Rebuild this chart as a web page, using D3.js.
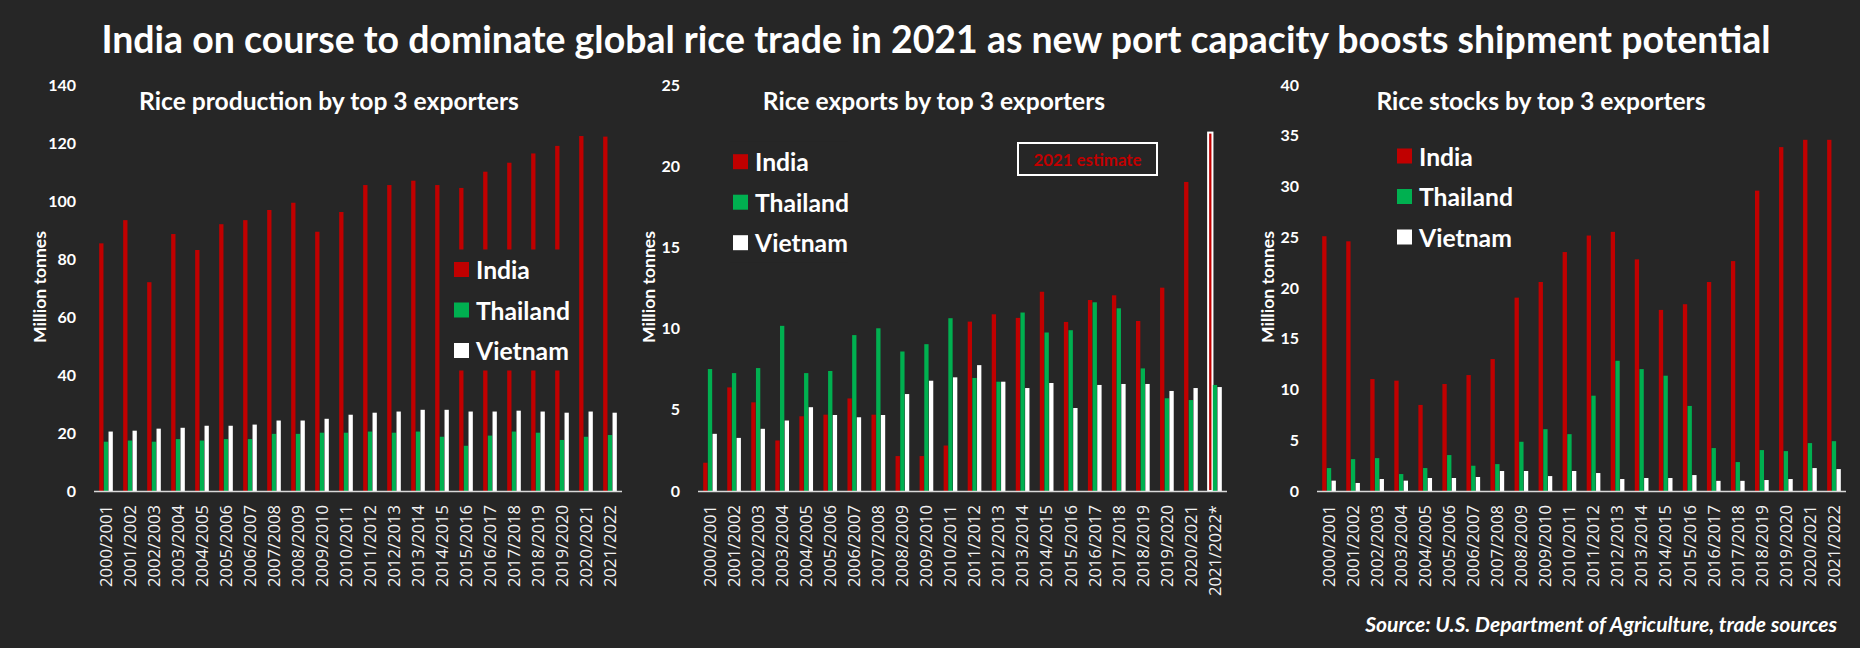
<!DOCTYPE html>
<html>
<head>
<meta charset="utf-8">
<script src="https://cdn.jsdelivr.net/npm/d3@7"></script>
<style>
  html, body { margin: 0; padding: 0; background: #262626; }
  svg { display: block; }
</style>
</head>
<body>
<div id="chart"></div>
<script>
// seasons on the x axis
let seasons = ["2000/2001","2001/2002","2002/2003","2003/2004","2004/2005","2005/2006",
  "2006/2007","2007/2008","2008/2009","2009/2010","2010/2011","2011/2012","2012/2013",
  "2013/2014","2014/2015","2015/2016","2016/2017","2017/2018","2018/2019","2019/2020",
  "2020/2021","2021/2022"];
let exportSeasons = seasons.slice(0, 21).concat(["2021/2022*"]);
let countries = ["India", "Thailand", "Vietnam"];

// million tonnes
let productionIndia =    [85.4,93.4,72.0,88.6,83.1,92.0,93.4,96.9,99.4,89.4,96.2,105.5,105.5,107.0,105.5,104.5,110.1,113.2,116.4,119.0,122.4,122.2];
let productionThailand = [17.0,17.4,17.0,17.9,17.4,17.9,17.9,19.7,19.7,20.1,20.1,20.5,20.1,20.5,18.7,15.6,19.1,20.5,20.1,17.6,18.7,19.3];
let productionVietnam =  [20.5,20.8,21.5,21.8,22.5,22.5,22.9,24.3,24.3,24.9,26.3,27.0,27.4,28.0,28.0,27.4,27.4,27.7,27.4,27.0,27.4,27.0];

let exportsIndia =    [1.74,6.38,5.46,3.11,4.6,4.7,5.7,4.7,2.15,2.15,2.8,10.43,10.88,10.66,12.27,10.41,11.76,12.05,10.47,12.52,19.03,22.07];
let exportsThailand = [7.51,7.26,7.57,10.17,7.26,7.39,9.6,10.02,8.59,9.04,10.64,6.96,6.73,10.99,9.76,9.9,11.62,11.25,7.55,5.71,5.6,6.53];
let exportsVietnam =  [3.52,3.27,3.83,4.34,5.16,4.68,4.54,4.68,5.97,6.79,7.0,7.75,6.73,6.34,6.65,5.11,6.53,6.59,6.59,6.16,6.34,6.4];

let stocksIndia =    [25.1,24.6,11.03,10.87,8.48,10.54,11.42,13.0,19.05,20.59,23.54,25.17,25.53,22.82,17.84,18.4,20.59,22.65,29.59,33.88,34.6,34.6];
let stocksThailand = [2.26,3.14,3.24,1.67,2.26,3.54,2.49,2.65,4.85,6.09,5.6,9.39,12.83,12.01,11.36,8.38,4.23,2.85,4.03,3.93,4.72,4.91];
let stocksVietnam =  [1.02,0.79,1.18,1.02,1.28,1.28,1.38,1.97,1.97,1.47,1.97,1.77,1.18,1.28,1.28,1.57,1.0,1.0,1.08,1.18,2.26,2.16];

let productionTicks = [0,20,40,60,80,100,120,140];
let exportsTicks = [0,5,10,15,20,25];
let stocksTicks = [0,5,10,15,20,25,30,35,40];

let bg = "#262626";
let color = d3.scaleOrdinal().domain(countries).range(["#c00000", "#00b050", "#ffffff"]);
let boldFont = "Lato, 'Open Sans', sans-serif";
let labelFont = "'Open Sans', 'DejaVu Sans', sans-serif";

let W = 1860, H = 648;
let svg = d3.select("#chart").append("svg").attr("width", W).attr("height", H);
svg.append("rect").attr("width", W).attr("height", H).attr("fill", bg);

// scale font-size so a text fills a given width
function fit(sel, w) {
    let len = sel.node().getComputedTextLength();
    let fs = parseFloat(sel.attr("font-size"));
    let size = fs * w / len;
    sel.attr("font-size", size);
    return size;
}

let title = svg.append("text")
    .attr("x", 936).attr("y", 38)
    .attr("text-anchor", "middle").attr("dominant-baseline", "central")
    .attr("font-family", boldFont).attr("font-weight", "bold").attr("font-size", 32)
    .attr("fill", "white")
    .text("India on course to dominate global rice trade in 2021 as new port capacity boosts shipment potential");
fit(title, 1670);

let panels = [
    { title: "Rice production by top 3 exporters", cats: seasons, ticks: productionTicks,
      series: [productionIndia, productionThailand, productionVietnam],
      x0: 94, x1: 622, tx: 329, ylx: 39, legend: [454, 269.5] },
    { title: "Rice exports by top 3 exporters", cats: exportSeasons, ticks: exportsTicks,
      series: [exportsIndia, exportsThailand, exportsVietnam],
      x0: 698, x1: 1227, tx: 934, ylx: 648, legend: [733, 161.7], estimate: 21 },
    { title: "Rice stocks by top 3 exporters", cats: seasons, ticks: stocksTicks,
      series: [stocksIndia, stocksThailand, stocksVietnam],
      x0: 1317, x1: 1846, tx: 1541, ylx: 1267, legend: [1397, 156] }
];

let yBottom = 491, yTop = 85;
let titleSize = null, legendSize = null, ylabSize = null, xlabSize = null;

panels.forEach(function(p) {
    let g = svg.append("g");

    let x = d3.scaleBand().domain(p.cats).range([p.x0, p.x1]).paddingInner(0.4).paddingOuter(0.2);
    let xs = d3.scaleBand().domain(countries).range([0, x.bandwidth()]).padding(0.08);
    let y = d3.scaleLinear().domain([0, d3.max(p.ticks)]).range([yBottom, yTop]);

    let rows = p.cats.map(function(c, i) {
        return { cat: c, i: i, values: countries.map(function(k, j) { return { key: k, v: p.series[j][i] }; }) };
    });

    let groups = g.selectAll("g.cat").data(rows).enter().append("g")
        .attr("transform", function(d) { return "translate(" + x(d.cat) + ",0)"; });

    groups.selectAll("rect").data(function(d) {
            return d.values.map(function(v) { return { key: v.key, v: v.v, i: d.i }; });
        })
        .enter().append("rect")
        .attr("x", function(d) { return xs(d.key); })
        .attr("width", xs.bandwidth())
        .attr("y", function(d) { return y(d.v); })
        .attr("height", function(d) { return yBottom - y(d.v); })
        .attr("fill", function(d) { return color(d.key); })
        .attr("stroke", function(d) { return (d.i === p.estimate && d.key === "India") ? "white" : "none"; })
        .attr("stroke-width", 2);

    // axis line
    g.append("line").attr("x1", p.x0).attr("x2", p.x1).attr("y1", yBottom + 0.5).attr("y2", yBottom + 0.5)
        .attr("stroke", "#d9d9d9").attr("stroke-width", 1.5);

    // y ticks
    let ya = g.append("g").attr("transform", "translate(" + p.x0 + ",0)")
        .call(d3.axisLeft(y).tickValues(p.ticks).tickSize(0).tickPadding(18));
    ya.select(".domain").remove();
    ya.selectAll("text").attr("fill", "white").attr("font-family", boldFont)
        .attr("font-weight", "bold").attr("font-size", 16);

    // x labels
    let xa = g.append("g").attr("transform", "translate(0," + yBottom + ")")
        .call(d3.axisBottom(x).tickSize(0));
    xa.select(".domain").remove();
    xa.selectAll("text")
        .attr("fill", "#f2f2f2").attr("font-family", labelFont).attr("font-size", 16)
        .attr("text-anchor", "end")
        .attr("transform", "rotate(-90)")
        .attr("x", -14).attr("y", 0).attr("dy", "0.35em");
    if (xlabSize === null) xlabSize = fit(xa.select("text"), 82);
    xa.selectAll("text").attr("font-size", xlabSize);

    // panel title
    let t = g.append("text").attr("x", p.tx).attr("y", 100)
        .attr("text-anchor", "middle").attr("dominant-baseline", "central")
        .attr("font-family", boldFont).attr("font-weight", "bold").attr("font-size", 24)
        .attr("fill", "white").text(p.title);
    if (titleSize === null) titleSize = fit(t, 380);
    t.attr("font-size", titleSize);

    // y label
    let yl = g.append("text")
        .attr("transform", "translate(" + p.ylx + ",287) rotate(-90)")
        .attr("text-anchor", "middle").attr("dominant-baseline", "central")
        .attr("font-family", boldFont).attr("font-weight", "bold").attr("font-size", 16)
        .attr("fill", "white").text("Million tonnes");
    if (ylabSize === null) ylabSize = fit(yl, 112);
    yl.attr("font-size", ylabSize);

    // legend, with a background box that hides the bars behind it
    let lg = g.append("g").attr("transform", "translate(" + p.legend[0] + "," + p.legend[1] + ")");
    let box = lg.append("rect").attr("fill", bg);
    let items = lg.selectAll("g.item").data(countries).enter().append("g")
        .attr("transform", function(d, i) { return "translate(0," + (i * 40.5) + ")"; });
    items.append("rect").attr("x", 0).attr("y", -7.5).attr("width", 15).attr("height", 15)
        .attr("fill", function(d) { return color(d); });
    let lt = items.append("text").attr("x", 22).attr("y", 0).attr("dominant-baseline", "central")
        .attr("font-family", boldFont).attr("font-weight", "bold").attr("font-size", 24)
        .attr("fill", "white").text(function(d) { return d; });
    if (legendSize === null) legendSize = fit(lt.filter(function(d) { return d === "Thailand"; }), 94);
    lt.attr("font-size", legendSize);
    box.attr("x", -3).attr("y", -20).attr("width", 118).attr("height", 121);

    if (p.estimate !== undefined) {
        let eg = g.append("g");
        eg.append("rect").attr("x", 1018).attr("y", 143).attr("width", 139).attr("height", 32)
            .attr("fill", "none").attr("stroke", "white").attr("stroke-width", 2);
        let et = eg.append("text").attr("x", 1087.5).attr("y", 159)
            .attr("text-anchor", "middle").attr("dominant-baseline", "central")
            .attr("font-family", boldFont).attr("font-weight", "bold").attr("font-size", 16)
            .attr("fill", "#c00000").text("2021 estimate");
        fit(et, 108);
    }
});

let src = svg.append("text").attr("x", 1837).attr("y", 623)
    .attr("text-anchor", "end").attr("dominant-baseline", "central")
    .attr("font-family", boldFont).attr("font-weight", "bold").attr("font-style", "italic")
    .attr("font-size", 18).attr("fill", "white")
    .text("Source: U.S. Department of Agriculture, trade sources");
fit(src, 472);
</script>
</body>
</html>
